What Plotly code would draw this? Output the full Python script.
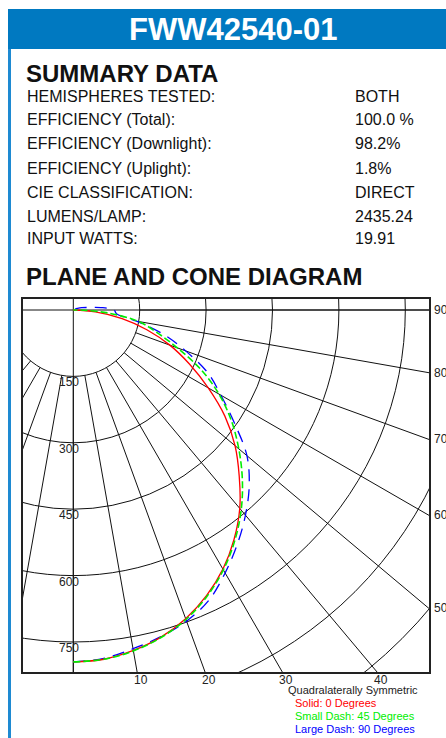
import numpy as np
import plotly.graph_objects as go

# ---------------- data ----------------
title_text = "FWW42540-01"
summary_labels = ["HEMISPHERES TESTED:", "EFFICIENCY (Total):", "EFFICIENCY (Downlight):",
                  "EFFICIENCY (Uplight):", "CIE CLASSIFICATION:", "LUMENS/LAMP:", "INPUT WATTS:"]
summary_values = ["BOTH", "100.0 %", "98.2%", "1.8%", "DIRECT", "2435.24", "19.91"]

# vertical angle from nadir (deg)
angles = [0, 5, 10, 15, 20, 25, 30, 35, 40, 45, 50, 55, 60, 65, 70, 75, 80, 85, 90,
          95, 100, 105, 110, 115, 120]
cd_0deg = [795, 792, 781, 765, 742, 712, 676, 633, 585, 530, 477, 418, 352, 290, 232, 172, 112, 50, 0,
           0, 0, 0, 0, 0, 0]
cd_45deg = [795, 792, 782, 766, 744, 714, 678, 636, 590, 540, 488, 436, 380, 318, 250, 195, 150, 80, 15,
            0, 0, 0, 0, 0, 0]
cd_90deg = [795, 790, 777, 764, 748, 724, 686, 646, 605, 562, 512, 444, 385, 335, 270, 210, 145, 98, 92,
            63, 33, 20, 10, 4, 0]

ring_values = [150, 300, 450, 600, 750, 900, 1050]
ring_labels = [150, 300, 450, 600, 750]
right_labels = [90, 80, 70, 60, 50]
bottom_labels = [10, 20, 30, 40]
spoke_angles = list(range(-90, 91, 10))

legend_lines = [("Solid: 0 Degrees", "#FF0000"),
                ("Small Dash: 45 Degrees", "#00EE00"),
                ("Large Dash: 90 Degrees", "#0000FF")]

# ---------------- geometry ----------------
W, H = 446, 738
L, R, T, B = 23, 429, 299, 672          # plot frame in pixels
OX, OY = 73.3, 310.0                    # origin pixel
S = 66.4 / 150.0                        # pixels per candela
xmin, xmax = (L - OX) / S, (R - OX) / S
ymin, ymax = (OY - B) / S, (OY - T) / S


def px(xp):
    return (xp - L) / (R - L)


def py(yp):
    return (B - yp) / (B - T)


FONT = "Arial, Liberation Sans, sans-serif"

fig = go.Figure()


def to_xy(ang, cd):
    a = np.radians(np.array(ang, dtype=float))
    c = np.array(cd, dtype=float)
    return c * np.sin(a), -c * np.cos(a)


x90, y90 = to_xy(angles, cd_90deg)
x0, y0 = to_xy(angles, cd_0deg)
x45, y45 = to_xy(angles, cd_45deg)

fig.add_trace(go.Scatter(x=x90, y=y90, mode="lines", line=dict(color="#0000FF", width=1.3, dash="12px,8px", shape="spline"),
                         hoverinfo="skip", showlegend=False))
fig.add_trace(go.Scatter(x=x0, y=y0, mode="lines", line=dict(color="#FF0000", width=1.3, shape="spline"),
                         hoverinfo="skip", showlegend=False))
fig.add_trace(go.Scatter(x=x45, y=y45, mode="lines", line=dict(color="#00EE00", width=1.6, dash="7px,3px", shape="spline"),
                         hoverinfo="skip", showlegend=False))

shapes = []
grid_line = dict(color="#111111", width=1)
for r in ring_values:
    shapes.append(dict(type="circle", xref="x", yref="y", x0=-r, y0=-r, x1=r, y1=r,
                       line=grid_line, layer="below"))
r_in = ring_values[0]
for a in spoke_angles:
    ar = np.radians(a)
    shapes.append(dict(type="line", xref="x", yref="y",
                       x0=r_in * np.sin(ar), y0=-r_in * np.cos(ar),
                       x1=2000 * np.sin(ar), y1=-2000 * np.cos(ar),
                       line=grid_line, layer="below"))
# axes through origin
shapes.append(dict(type="line", xref="x", yref="y", x0=xmin, y0=0, x1=xmax, y1=0, line=grid_line, layer="below"))
shapes.append(dict(type="line", xref="x", yref="y", x0=0, y0=ymin, x1=0, y1=ymax, line=grid_line, layer="below"))

# header bar and side stripe
shapes.append(dict(type="rect", xref="paper", yref="paper", x0=px(8), x1=px(446), y0=py(49), y1=py(9),
                   fillcolor="#0079C1", line=dict(width=0), layer="above"))
shapes.append(dict(type="rect", xref="paper", yref="paper", x0=px(8), x1=px(11), y0=py(738), y1=py(49),
                   fillcolor="#1E8AD2", line=dict(width=0), layer="above"))

ann = []
ann.append(dict(text="<b>" + title_text + "</b>", xref="paper", yref="paper", x=px(233), y=py(29),
                xanchor="center", yanchor="middle", showarrow=False,
                font=dict(family=FONT, size=31, color="white")))
ann.append(dict(text="<b>SUMMARY DATA</b>", xref="paper", yref="paper", x=px(24), y=py(73),
                xanchor="left", yanchor="middle", showarrow=False,
                font=dict(family=FONT, size=24, color="#111111")))
row_y = [96, 120, 144, 168, 192, 216, 239]
for lab, val, yy in zip(summary_labels, summary_values, row_y):
    ann.append(dict(text=lab, xref="paper", yref="paper", x=px(25), y=py(yy), xanchor="left", yanchor="middle",
                    showarrow=False, font=dict(family=FONT, size=16, color="#111111")))
    ann.append(dict(text=val, xref="paper", yref="paper", x=px(353), y=py(yy), xanchor="left", yanchor="middle",
                    showarrow=False, font=dict(family=FONT, size=16, color="#111111")))
ann.append(dict(text="<b>PLANE AND CONE DIAGRAM</b>", xref="paper", yref="paper", x=px(24), y=py(276),
                xanchor="left", yanchor="middle", showarrow=False,
                font=dict(family=FONT, size=24, color="#111111")))

lab_font = dict(family=FONT, size=12, color="#222222")
for v in ring_labels:
    ann.append(dict(text=str(v), xref="x", yref="y", x=0, y=-v, xshift=-4, yshift=-6,
                    xanchor="center", yanchor="middle", showarrow=False, font=lab_font))
for v in right_labels:
    yv = -xmax * np.tan(np.radians(90 - v))
    ann.append(dict(text=str(v), xref="paper", yref="y", x=1, y=yv, xshift=3,
                    xanchor="left", yanchor="middle", showarrow=False, font=lab_font))
for v in bottom_labels:
    xv = -ymin * np.tan(np.radians(v))
    ann.append(dict(text=str(v), xref="x", yref="paper", x=xv, y=0, xshift=4, yshift=-8,
                    xanchor="center", yanchor="middle", showarrow=False, font=lab_font))

ann.append(dict(text="Quadralaterally Symmetric", xref="paper", yref="paper", x=px(353), y=py(690),
                xanchor="center", yanchor="middle", showarrow=False,
                font=dict(family=FONT, size=11, color="#222222")))
for (txt, col), yy in zip(legend_lines, [703, 716, 728.5]):
    ann.append(dict(text=txt, xref="paper", yref="paper", x=px(293), y=py(yy),
                    xanchor="left", yanchor="middle", showarrow=False,
                    font=dict(family=FONT, size=11, color=col)))

fig.update_layout(
    width=W, height=H,
    margin=dict(l=L, r=W - R, t=T, b=H - B, pad=0),
    paper_bgcolor="white", plot_bgcolor="white",
    shapes=shapes, annotations=ann, showlegend=False,
    xaxis=dict(range=[xmin, xmax], showgrid=False, zeroline=False, showticklabels=False, ticks="",
               showline=True, mirror=True, linecolor="#222222", linewidth=1.5, fixedrange=True),
    yaxis=dict(range=[ymin, ymax], showgrid=False, zeroline=False, showticklabels=False, ticks="",
               showline=True, mirror=True, linecolor="#222222", linewidth=1.5, fixedrange=True),
)

fig.write_html("out.html", config={"displayModeBar": False},
               post_script="document.body.style.margin='0px';document.body.style.overflow='hidden';")
